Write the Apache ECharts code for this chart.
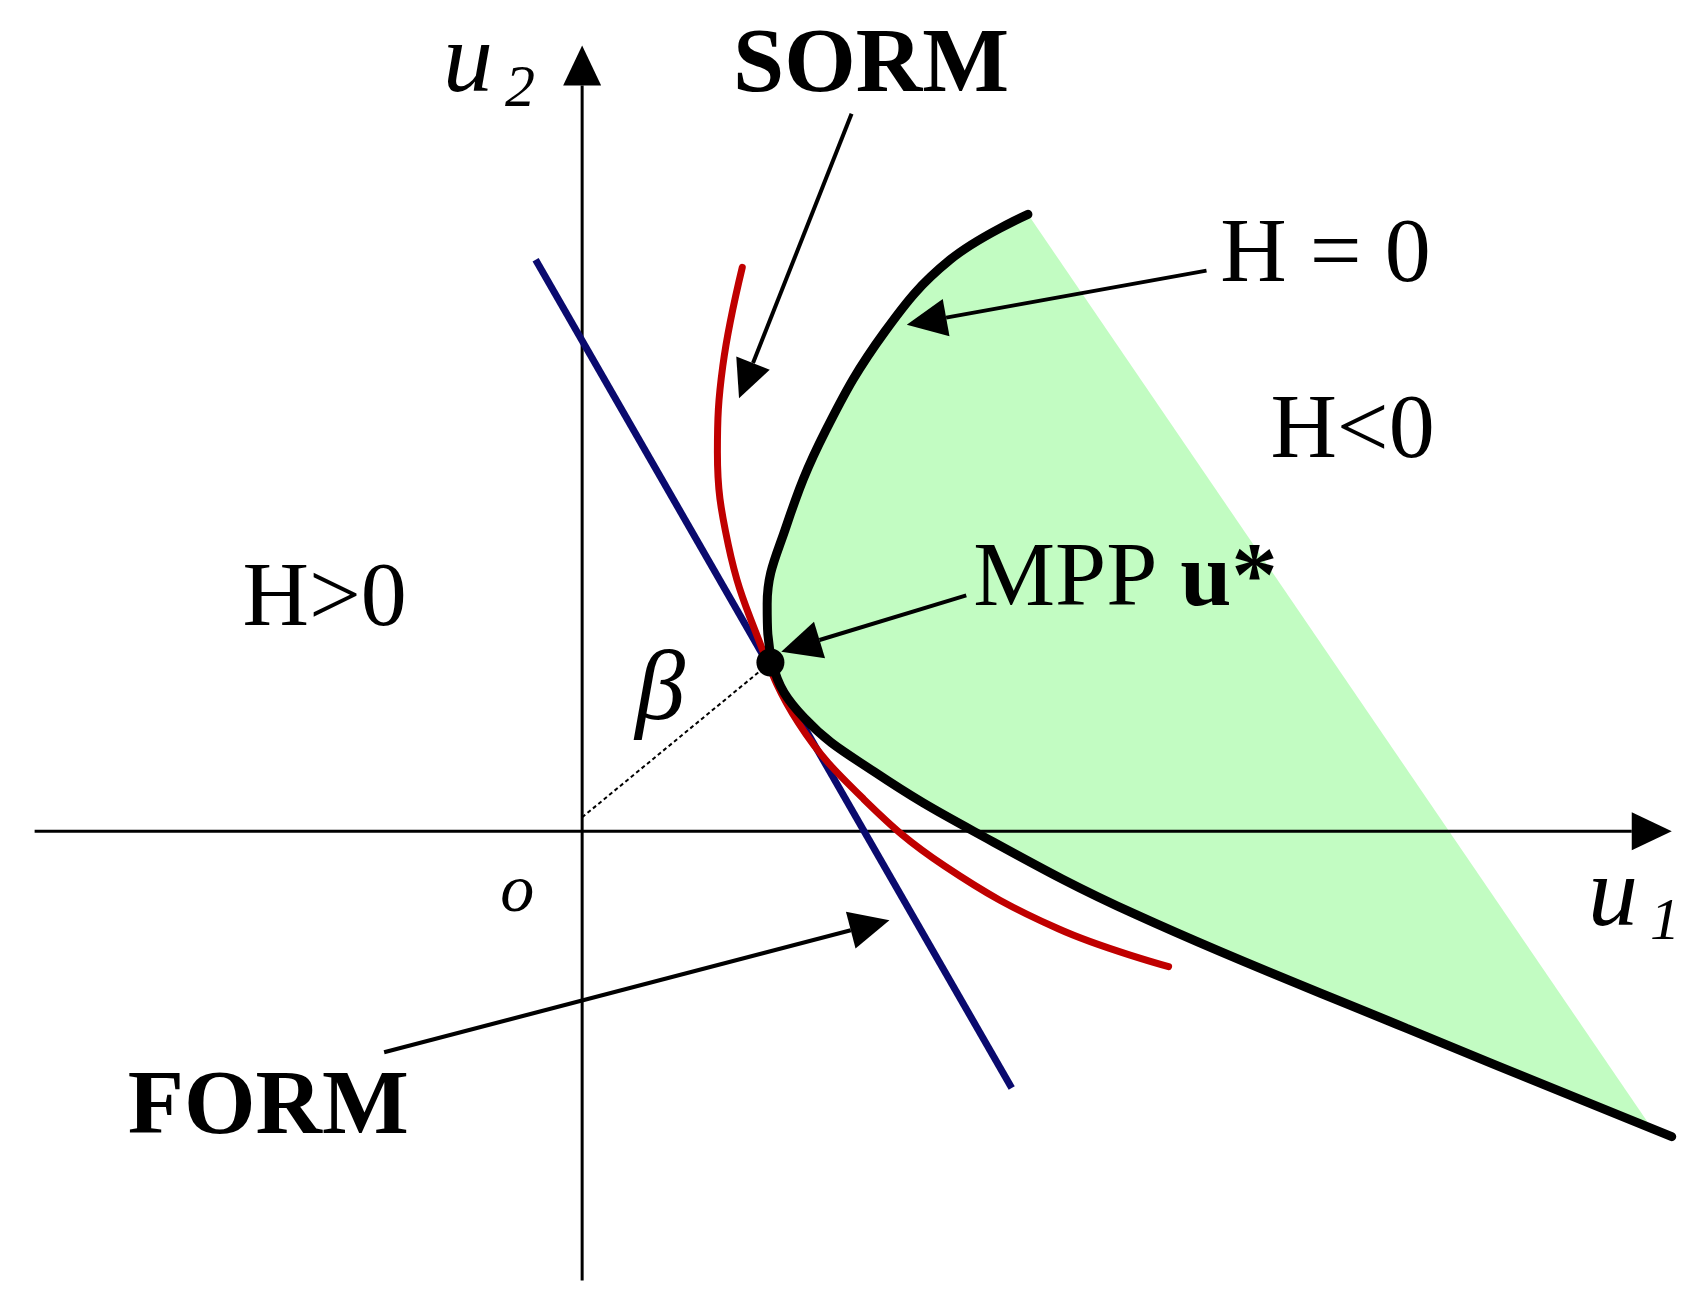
<!DOCTYPE html>
<html>
<head>
<meta charset="utf-8">
<script src="https://cdn.jsdelivr.net/npm/echarts@6/dist/echarts.min.js"></script>
<style>html,body{margin:0;padding:0;background:#fff}#c{width:1688px;height:1299px}</style>
</head>
<body>
<div id="c"></div>
<script>
// coordinates in the (u1, u2) plane
const formLine = [[-0.43, 5.28], [3.97, -2.37]];
const sormCurve = [[1.48, 5.21], [1.30, 4.30], [1.25, 3.50], [1.35, 2.65], [1.60, 1.85], [2.00, 1.00], [2.60, 0.30], [3.35, -0.32], [4.40, -0.90], [5.42, -1.25]];
const limitState = [[4.12, 5.70], [3.40, 5.28], [2.80, 4.62], [2.25, 3.70], [1.88, 2.80], [1.71, 2.10], [1.76, 1.55], [2.05, 1.05], [2.70, 0.55], [3.62, 0], [5.12, -0.77], [7.62, -1.82], [10.07, -2.82]];
const failureRegion = [[4.12, 5.70], [3.40, 5.28], [2.80, 4.62], [2.25, 3.70], [1.88, 2.80], [1.71, 2.10], [1.76, 1.55], [2.05, 1.05], [2.70, 0.55], [3.62, 0], [5.12, -0.77], [7.62, -1.82], [9.87, -2.72]];
const mpp = [[1.74, 1.56]];
const betaLine = [[0, 0.13], [1.74, 1.56]];
// [x0, y0, x1, y1, headLength, headWidth]
const axisArrows = [[-5.06, 0, 10.07, 0, 40, 38], [0, -4.15, 0, 7.26, 40, 38]];
const pointerArrows = [[2.49, 6.63, 1.45, 4.0, 38, 36], [5.77, 5.18, 3.0, 4.68, 40, 38], [3.55, 2.18, 1.84, 1.66, 40, 38], [-1.83, -2.04, 2.84, -0.82, 40, 38]];
// [x, y, text, bold]
const labels = [
  [-0.86, 7.08, '{i|u}{s|2}', 0],
  [2.67, 7.06, 'SORM', 1],
  [6.87, 5.31, 'H = 0', 0],
  [7.12, 3.68, 'H<0', 0],
  [-2.38, 2.13, 'H>0', 0],
  [5.02, 2.31, 'MPP {b|u*}', 0],
  [0.72, 1.28, '{i|β}', 0],
  [-0.6, -0.57, '{o|o}', 0],
  [9.72, -0.62, '{i|u}{s|1}', 0],
  [-2.9, -2.57, 'FORM', 1]
];

const chart = echarts.init(document.getElementById('c'));
const serif = 'Liberation Serif';

function arrowItem(params, api) {
  const p0 = api.coord([api.value(0), api.value(1)]);
  const p1 = api.coord([api.value(2), api.value(3)]);
  const hl = api.value(4), hw = api.value(5);
  const dx = p1[0] - p0[0], dy = p1[1] - p0[1];
  const len = Math.sqrt(dx * dx + dy * dy);
  const ux = dx / len, uy = dy / len;
  const bx = p1[0] - ux * hl, by = p1[1] - uy * hl;
  return {
    type: 'group',
    children: [
      { type: 'line', shape: { x1: p0[0], y1: p0[1], x2: bx, y2: by }, style: { stroke: '#000', lineWidth: params.seriesIndex === 0 ? 3 : 4 } },
      { type: 'polygon', shape: { points: [p1, [bx - uy * hw / 2, by + ux * hw / 2], [bx + uy * hw / 2, by - ux * hw / 2]] }, style: { fill: '#000' } }
    ]
  };
}

chart.setOption({
  animation: false,
  grid: { left: 0, right: 0, top: 0, bottom: 0 },
  xAxis: { type: 'value', min: -5.38, max: 10.22, show: false },
  yAxis: { type: 'value', min: -4.32, max: 7.68, show: false },
  series: [
    { type: 'custom', data: axisArrows, renderItem: arrowItem, z: 3 },
    {
      type: 'custom', data: [0], z: 1,
      renderItem: (params, api) => ({
        type: 'polygon',
        shape: { points: failureRegion.map(p => api.coord(p)), smooth: 0 },
        style: { fill: '#c2fcc2' }
      })
    },
    { type: 'line', data: betaLine, symbol: 'none', lineStyle: { color: '#000', width: 2, type: [4, 3] }, z: 4 },
    { type: 'line', data: formLine, symbol: 'none', lineStyle: { color: '#0a0a6e', width: 7 }, z: 5 },
    { type: 'line', data: sormCurve, smooth: 0.4, symbol: 'none', lineStyle: { color: '#c00000', width: 7, cap: 'round' }, z: 6 },
    { type: 'line', data: limitState, smooth: 0.4, symbol: 'none', lineStyle: { color: '#000', width: 9, cap: 'round' }, z: 7 },
    { type: 'scatter', data: mpp, symbolSize: 28, itemStyle: { color: '#000', opacity: 1 }, z: 8 },
    { type: 'custom', data: pointerArrows, renderItem: arrowItem, z: 9 },
    {
      type: 'custom', data: labels, z: 10,
      renderItem: (params, api) => {
        const d = labels[params.dataIndex];
        const p = api.coord([d[0], d[1]]);
        return {
          type: 'text', x: p[0], y: p[1],
          style: {
            text: d[2], fill: '#000', align: 'center', verticalAlign: 'middle',
            fontFamily: serif, fontSize: 92, fontWeight: d[3] ? 'bold' : 'normal',
            rich: {
              i: { fontFamily: serif, fontStyle: 'italic', fontSize: 100, fill: '#000' },
              s: { fontFamily: serif, fontStyle: 'italic', fontSize: 60, fill: '#000', padding: [50, 0, 0, 12] },
              b: { fontFamily: serif, fontWeight: 'bold', fontSize: 92, fill: '#000' },
              o: { fontFamily: serif, fontStyle: 'italic', fontSize: 68, fill: '#000' }
            }
          }
        };
      }
    }
  ]
});
</script>
</body>
</html>
